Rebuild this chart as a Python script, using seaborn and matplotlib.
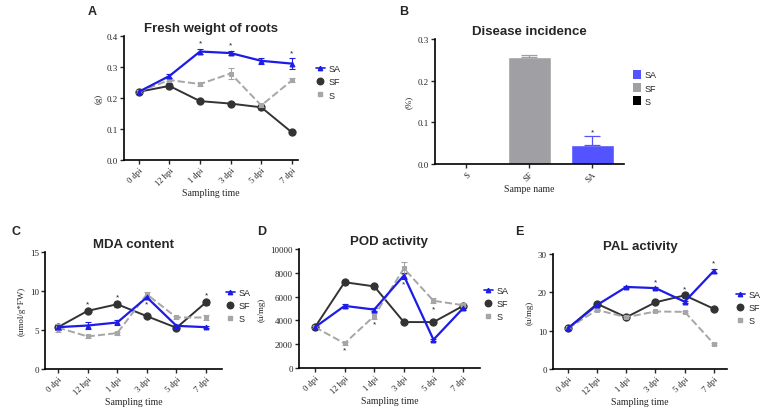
import pandas as pd
import matplotlib.pyplot as plt
from matplotlib.lines import Line2D
from matplotlib.patches import Patch
import seaborn as sns

times = ["0 dpi", "12 hpi", "1 dpi", "3 dpi", "5 dpi", "7 dpi"]
groups = ["SA", "SF", "S"]

# A: fresh weight of roots (g)
fw_sa = [0.220, 0.271, 0.350, 0.345, 0.320, 0.311]
fw_sf = [0.220, 0.239, 0.190, 0.182, 0.170, 0.089]
fw_s = [0.220, 0.258, 0.245, 0.279, 0.176, 0.257]
fw_sa_err = [0.004, 0.006, 0.009, 0.007, 0.010, 0.018]
fw_sf_err = [0.004, 0.008, 0.004, 0.004, 0.004, 0.005]
fw_s_err = [0.005, 0.004, 0.005, 0.017, 0.004, 0.006]

# B: disease incidence (%)
bar_names = ["S", "SF", "SA"]
bar_vals = [0.0, 0.257, 0.046]
bar_errs = [0.0, 0.004, 0.021]

# C: MDA content
mda_sa = [5.36, 5.57, 5.96, 9.19, 5.53, 5.36]
mda_sf = [5.36, 7.45, 8.30, 6.77, 5.28, 8.55]
mda_s = [5.30, 4.17, 4.60, 9.57, 6.60, 6.60]
mda_sa_err = [0.3, 0.5, 0.3, 0.2, 0.15, 0.15]
mda_sf_err = [0.2, 0.2, 0.3, 0.15, 0.15, 0.3]
mda_s_err = [0.5, 0.15, 0.2, 0.3, 0.2, 0.3]

# D: POD activity
pod_sa = [3430, 5220, 4910, 7770, 2380, 5020]
pod_sf = [3430, 7210, 6860, 3860, 3860, 5220]
pod_s = [3430, 2070, 4370, 8370, 5650, 5280]
pod_sa_err = [80, 150, 150, 250, 80, 150]
pod_sf_err = [80, 100, 100, 80, 80, 100]
pod_s_err = [80, 100, 250, 500, 200, 100]

# E: PAL activity
pal_sa = [10.6, 16.7, 21.4, 21.1, 17.55, 25.6]
pal_sf = [10.6, 17.0, 13.5, 17.4, 19.2, 15.7]
pal_s = [10.6, 15.4, 13.5, 15.0, 14.9, 6.55]
pal_sa_err = [0.2, 0.3, 0.2, 0.3, 0.3, 0.6]
pal_sf_err = [0.2, 0.3, 0.2, 0.3, 0.3, 0.2]
pal_s_err = [0.2, 0.2, 0.2, 0.2, 0.2, 0.3]

# significance marks: (time index, group, above/below)
fw_stars = [(2, "SA", 1), (3, "SA", 1), (5, "SA", 1)]
mda_stars = [(1, "SF", 1), (2, "SF", 1), (3, "SA", -1), (5, "SF", 1)]
pod_stars = [(1, "S", -1), (2, "S", -1), (3, "SA", -1), (4, "S", -1)]
pal_stars = [(3, "SA", 1), (4, "SF", 1), (5, "SA", 1)]

sns.set_style("ticks")
serif = "Liberation Serif"
sans = "Liberation Sans"
plt.rcParams["font.family"] = [sans, "DejaVu Sans"]

colors = {"SA": "#1c1ce6", "SF": "#333333", "S": "#a6a6a6"}
markers = {"SA": "^", "SF": "o", "S": "s"}
msizes = {"SA": 3.5, "SF": 5.2, "S": 3.5}
styles = {"SA": "-", "SF": "-", "S": "--"}
lwidths = {"SA": 1.6, "SF": 1.4, "S": 1.4}

fig = plt.figure(figsize=(7.67, 4.10), dpi=100)


def style_axes(ax, title, ylabel, xlabel, letter, lxy):
    sns.despine(ax=ax)
    for s in ["left", "bottom"]:
        ax.spines[s].set_linewidth(1.2)
        ax.spines[s].set_color("black")
    ax.tick_params(length=3, width=1, labelsize=6.5, pad=1.5)
    ax.tick_params(axis="x", labelsize=6.2)
    for lab in ax.get_yticklabels():
        lab.set_fontfamily(serif)
    for lab in ax.get_xticklabels():
        lab.set_fontfamily(serif)
        lab.set_rotation(45)
        lab.set_ha("right")
        lab.set_rotation_mode("anchor")
    ax.set_title(title, fontsize=9.5, fontweight="bold", pad=3.5)
    ax.set_ylabel(ylabel, fontfamily=serif, fontsize=6.5, labelpad=3)
    ax.set_xlabel(xlabel, fontfamily=serif, fontsize=7, labelpad=0.5)
    ax.text(lxy[0], lxy[1], letter, transform=ax.transAxes, fontsize=9,
            fontweight="bold", va="center", ha="left")


def line_panel(rect, data, errs, stars, title, ylabel, yticks, fmt, xlim,
               letter, lxy, leg_xy):
    ax = fig.add_axes(rect)
    xs = list(range(len(times)))
    for g in groups:
        df = pd.DataFrame({"x": xs, "y": data[g]})
        sns.lineplot(data=df, x="x", y="y", ax=ax, color=colors[g],
                     marker=markers[g], markersize=msizes[g],
                     markeredgecolor=colors[g], linestyle=styles[g],
                     linewidth=lwidths[g], zorder=3 if g == "SA" else 2)
        ax.errorbar(xs, data[g], yerr=errs[g], fmt="none", ecolor=colors[g],
                    elinewidth=0.8, capsize=2.5, capthick=0.8, zorder=2)
    span = yticks[-1] - yticks[0]
    for i, g, d in stars:
        y = data[g][i] + d * (errs[g][i] + span * 0.045)
        ax.text(i, y, "*", ha="center", va="center", fontsize=6,
                color="#222222")
    ax.set_xlim(*xlim)
    ax.set_ylim(yticks[0], yticks[-1])
    ax.set_xticks(xs)
    ax.set_xticklabels(times)
    ax.set_yticks(yticks)
    ax.set_yticklabels([fmt.format(v) for v in yticks])
    style_axes(ax, title, ylabel, "Sampling time", letter, lxy)
    handles = [Line2D([], [], color=colors[g], marker=markers[g],
                      markersize=msizes[g] * 0.9, linestyle="-" if g == "SA" else "none",
                      linewidth=1.2) for g in groups]
    ax.legend(handles, groups, loc="upper left", bbox_to_anchor=leg_xy,
              frameon=False, fontsize=6.5, handlelength=1.0,
              handletextpad=0.4, labelspacing=0.45, borderaxespad=0)
    return ax


line_panel([0.1617, 0.6073, 0.2269, 0.3024],
           {"SA": fw_sa, "SF": fw_sf, "S": fw_s},
           {"SA": fw_sa_err, "SF": fw_sf_err, "S": fw_s_err},
           fw_stars, "Fresh weight of roots", "(g)",
           [0.0, 0.1, 0.2, 0.3, 0.4], "{:.1f}", (-0.48, 5.2),
           "A", (-0.21, 1.20), (1.08, 0.8))

line_panel([0.0587, 0.0976, 0.2308, 0.2854],
           {"SA": mda_sa, "SF": mda_sf, "S": mda_s},
           {"SA": mda_sa_err, "SF": mda_sf_err, "S": mda_s_err},
           mda_stars, "MDA content", "(umol/g*FW)",
           [0, 5, 10, 15], "{:d}", (-0.44, 5.54),
           "C", (-0.19, 1.18), (1.0, 0.72))

line_panel([0.3898, 0.1000, 0.2360, 0.2902],
           {"SA": pod_sa, "SF": pod_sf, "S": pod_s},
           {"SA": pod_sa_err, "SF": pod_sf_err, "S": pod_s_err},
           pod_stars, "POD activity", "(u/mg)",
           [0, 2000, 4000, 6000, 8000, 10000], "{:d}", (-0.54, 5.57),
           "D", (-0.23, 1.15), (1.0, 0.72))

line_panel([0.7210, 0.0976, 0.2269, 0.2805],
           {"SA": pal_sa, "SF": pal_sf, "S": pal_s},
           {"SA": pal_sa_err, "SF": pal_sf_err, "S": pal_s_err},
           pal_stars, "PAL activity", "(u/mg)",
           [0, 10, 20, 30], "{:d}", (-0.51, 5.45),
           "E", (-0.22, 1.20), (1.03, 0.72))

# B: bar chart
bar_colors = {"SA": "#5353ff", "SF": "#a0a0a4", "S": "#000000"}
axb = fig.add_axes([0.5671, 0.5976, 0.2464, 0.3049])
bdf = pd.DataFrame({"name": bar_names, "val": bar_vals})
sns.barplot(data=bdf, x="name", y="val", hue="name", palette=bar_colors,
            width=0.68, legend=False, ax=axb, errorbar=None, saturation=1)
for i, (v, e, n) in enumerate(zip(bar_vals, bar_errs, bar_names)):
    if e > 0:
        axb.errorbar(i, v, yerr=[[0], [e]], fmt="none", ecolor=bar_colors[n],
                     elinewidth=0.9, capsize=6, capthick=0.9)
axb.text(2, bar_vals[2] + bar_errs[2] + 0.009, "*", ha="center", va="center",
         fontsize=6, color="#222222")
axb.set_xlim(-0.5, 2.5)
axb.set_ylim(0, 0.3)
axb.set_yticks([0.0, 0.1, 0.2, 0.3])
axb.set_yticklabels(["0.0", "0.1", "0.2", "0.3"])
style_axes(axb, "Disease incidence", "(%)", "Sampe name", "B", (-0.19, 1.22))
bh = [Patch(facecolor=bar_colors[g], edgecolor="none") for g in groups]
axb.legend(bh, groups, loc="upper left", bbox_to_anchor=(1.03, 0.78),
           frameon=False, fontsize=6.5, handlelength=0.9, handleheight=1.1,
           handletextpad=0.4, labelspacing=0.4, borderaxespad=0)

fig.savefig("out.png", dpi=100, facecolor="white")
